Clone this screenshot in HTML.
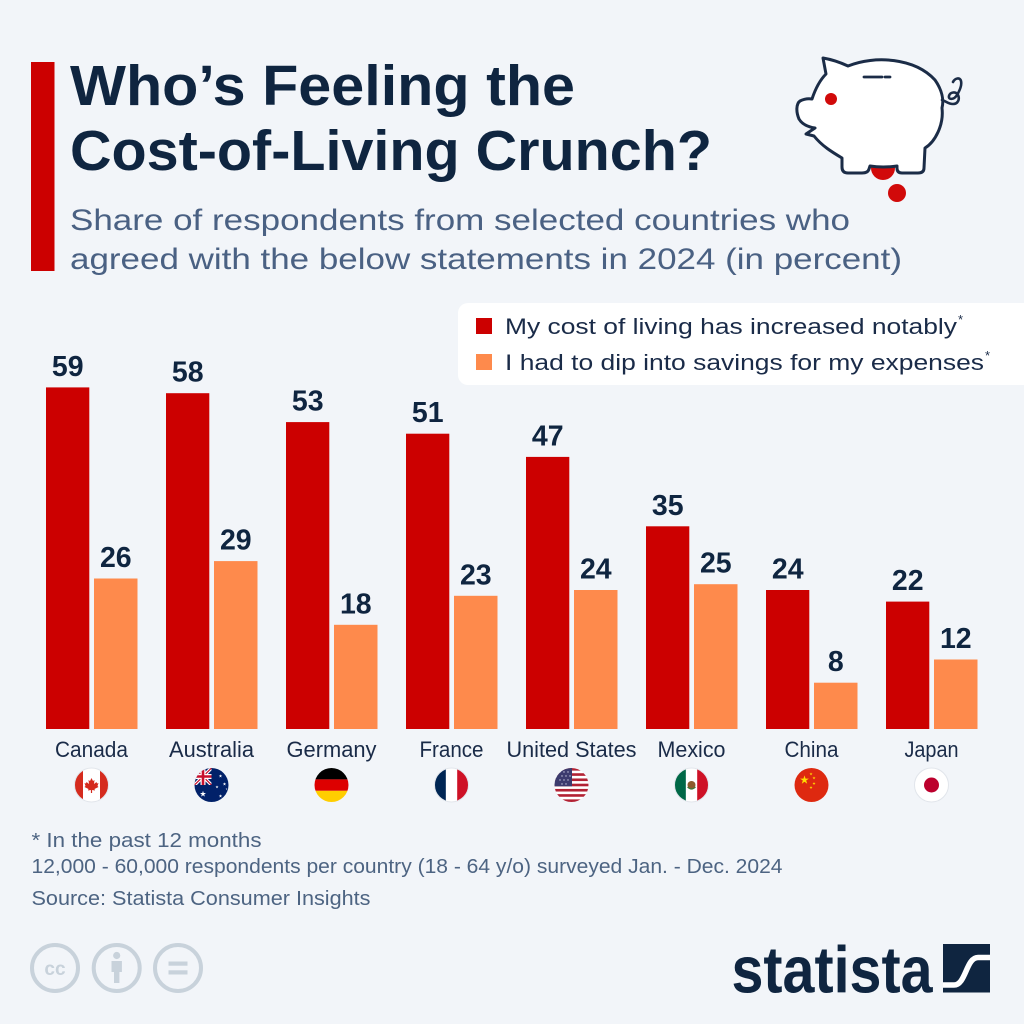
<!DOCTYPE html>
<html>
<head>
<meta charset="utf-8">
<style>
  html,body{margin:0;padding:0;background:#f2f5f9;}
  svg{display:block;}
  .t{font-family:"Liberation Sans",sans-serif;}
</style>
</head>
<body>
<svg width="1024" height="1024" viewBox="0 0 1024 1024" xmlns="http://www.w3.org/2000/svg">
  <defs>
    <path id="star" d="M0,-1 L0.2245,-0.309 L0.951,-0.309 L0.363,0.118 L0.588,0.809 L0,0.382 L-0.588,0.809 L-0.363,0.118 L-0.951,-0.309 L-0.2245,-0.309 Z"/>
    <clipPath id="c0"><circle cx="91.5" cy="785" r="17"/></clipPath>
    <clipPath id="c1"><circle cx="211.5" cy="785" r="17"/></clipPath>
    <clipPath id="c1q"><rect x="194.5" y="768" width="17" height="17"/></clipPath>
    <clipPath id="c2"><circle cx="331.5" cy="785" r="17"/></clipPath>
    <clipPath id="c3"><circle cx="451.5" cy="785" r="17"/></clipPath>
    <clipPath id="c4"><circle cx="571.5" cy="785" r="17"/></clipPath>
    <clipPath id="c5"><circle cx="691.5" cy="785" r="17"/></clipPath>
  </defs>

  <rect x="0" y="0" width="1024" height="1024" fill="#f2f5f9"/>

  <!-- Title block -->
  <rect x="31" y="62" width="23.5" height="209" fill="#cc0000"/>
  <g class="t" font-weight="bold" font-size="57" fill="#0f2540">
    <text x="70" y="105" textLength="505" lengthAdjust="spacingAndGlyphs">Who’s Feeling the</text>
    <text x="70" y="170" textLength="642" lengthAdjust="spacingAndGlyphs">Cost-of-Living Crunch?</text>
  </g>
  <g class="t" font-size="30" fill="#4a6183">
    <text x="70" y="230" textLength="780" lengthAdjust="spacingAndGlyphs">Share of respondents from selected countries who</text>
    <text x="70" y="269" textLength="832" lengthAdjust="spacingAndGlyphs">agreed with the below statements in 2024 (in percent)</text>
  </g>

  <!-- Piggy bank -->
  <circle cx="883" cy="168" r="12" fill="#d10a0a"/>
  <circle cx="897" cy="193" r="9" fill="#d10a0a"/>
  <path d="M 826 74 L 823 58 Q 835 60 848 66 C 875 55 915 58 935 80 C 942 90 944 100 942 108 C 944 125 935 142 925 148 L 924 168 Q 924 173 918 173 L 902 173 Q 897 173 897 168 L 897 166 Q 883 168 870 166 L 869 169 Q 868 173 862 173 L 848 173 Q 842 173 842 167 L 842 158 C 832 152 822 146 814 136 L 806 134 L 815 128 C 808 127 802 124 799 119 C 796 112 796 104 800 101 Q 806 98 812 99 C 815 90 820 80 826 74 Z" fill="#ffffff" stroke="#1b2c47" stroke-width="3" stroke-linejoin="round"/>
  <path d="M 942 100 C 946 101 948 104 953 104 C 958 104 960 99 958 95 C 956 91 950 92 949 96 C 948 100 954 100 957 95 C 960 90 962 85 961 81 C 960 77 955 78 953 82" fill="none" stroke="#1b2c47" stroke-width="2.6" stroke-linecap="round"/>
  <path d="M 864 77 L 882 77 M 885 77 L 890 77" stroke="#1b2c47" stroke-width="2.8" stroke-linecap="round"/>
  <circle cx="831" cy="99" r="6" fill="#d10a0a"/>

  <!-- Legend -->
  <rect x="458" y="303" width="580" height="82" rx="10" fill="#ffffff"/>
  <rect x="476" y="318" width="16" height="16" fill="#cc0000"/>
  <rect x="476" y="354" width="16" height="16" fill="#fe8a4c"/>
  <g class="t" font-size="22" fill="#1a2b48">
    <text x="505" y="334" textLength="452" lengthAdjust="spacingAndGlyphs">My cost of living has increased notably</text>
    <text x="958" y="324" font-size="13">*</text>
    <text x="505" y="370" textLength="479" lengthAdjust="spacingAndGlyphs">I had to dip into savings for my expenses</text>
    <text x="985" y="360" font-size="13">*</text>
  </g>

  <!-- Bars -->
  <g fill="#cc0000">
    <rect x="46" y="387.4" width="43.3" height="341.6"/>
    <rect x="166" y="393.2" width="43.3" height="335.8"/>
    <rect x="286" y="422.1" width="43.3" height="306.9"/>
    <rect x="406" y="433.7" width="43.3" height="295.3"/>
    <rect x="526" y="456.9" width="43.3" height="272.1"/>
    <rect x="646" y="526.3" width="43.3" height="202.7"/>
    <rect x="766" y="590" width="43.3" height="139"/>
    <rect x="886" y="601.6" width="43.3" height="127.4"/>
  </g>
  <g fill="#fe8a4c">
    <rect x="94" y="578.5" width="43.5" height="150.5"/>
    <rect x="214" y="561.1" width="43.5" height="167.9"/>
    <rect x="334" y="624.8" width="43.5" height="104.2"/>
    <rect x="454" y="595.8" width="43.5" height="133.2"/>
    <rect x="574" y="590" width="43.5" height="139"/>
    <rect x="694" y="584.2" width="43.5" height="144.8"/>
    <rect x="814" y="682.7" width="43.5" height="46.3"/>
    <rect x="934" y="659.5" width="43.5" height="69.5"/>
  </g>

  <!-- Value labels -->
  <g class="t" font-weight="bold" font-size="28.5" fill="#0f2540" text-anchor="middle">
    <text x="67.7" y="376">59</text>
    <text x="115.8" y="567">26</text>
    <text x="187.7" y="381.7">58</text>
    <text x="235.8" y="549.6">29</text>
    <text x="307.7" y="410.6">53</text>
    <text x="355.8" y="613.3">18</text>
    <text x="427.7" y="422.2">51</text>
    <text x="475.8" y="584.3">23</text>
    <text x="547.7" y="445.4">47</text>
    <text x="595.8" y="578.5">24</text>
    <text x="667.7" y="514.8">35</text>
    <text x="715.8" y="572.7">25</text>
    <text x="787.7" y="578.5">24</text>
    <text x="835.8" y="671.2">8</text>
    <text x="907.7" y="590.1">22</text>
    <text x="955.8" y="648">12</text>
  </g>

  <!-- Country labels -->
  <g class="t" font-size="22.5" fill="#1a2b48" text-anchor="middle">
    <text x="91.5" y="757" textLength="73" lengthAdjust="spacingAndGlyphs">Canada</text>
    <text x="211.5" y="757" textLength="85" lengthAdjust="spacingAndGlyphs">Australia</text>
    <text x="331.5" y="757" textLength="90" lengthAdjust="spacingAndGlyphs">Germany</text>
    <text x="451.5" y="757" textLength="64" lengthAdjust="spacingAndGlyphs">France</text>
    <text x="571.5" y="757" textLength="130" lengthAdjust="spacingAndGlyphs">United States</text>
    <text x="691.5" y="757" textLength="68" lengthAdjust="spacingAndGlyphs">Mexico</text>
    <text x="811.5" y="757" textLength="54" lengthAdjust="spacingAndGlyphs">China</text>
    <text x="931.5" y="757" textLength="54" lengthAdjust="spacingAndGlyphs">Japan</text>
  </g>

  <!-- Flags -->
  <!-- Canada -->
  <g clip-path="url(#c0)">
    <rect x="74.5" y="768" width="34" height="34" fill="#ffffff"/>
    <rect x="74.5" y="768" width="8.5" height="34" fill="#d52b1e"/>
    <rect x="100" y="768" width="8.5" height="34" fill="#d52b1e"/>
    <polygon transform="translate(91.5,785)" fill="#d52b1e" points="0,-7 1.5,-4 3,-5 2.5,-1 5,-3 5.5,-1.5 7,-2 6,1 7,2 3,4 3.5,5.5 0.6,5 0.6,8 -0.6,8 -0.6,5 -3.5,5.5 -3,4 -7,2 -6,1 -7,-2 -5.5,-1.5 -5,-3 -2.5,-1 -3,-5 -1.5,-4"/>
  </g>
  <circle cx="91.5" cy="785" r="17" fill="none" stroke="#e1e5eb" stroke-width="1"/>

  <!-- Australia -->
  <circle cx="211.5" cy="785" r="17" fill="#012169"/>
  <g clip-path="url(#c1)">
    <g clip-path="url(#c1q)">
      <path d="M194.5 768 L211.5 785 M211.5 768 L194.5 785" stroke="#ffffff" stroke-width="3.4"/>
      <path d="M194.5 768 L211.5 785 M211.5 768 L194.5 785" stroke="#c8102e" stroke-width="1.2"/>
      <path d="M203 768 L203 785 M194.5 776.5 L211.5 776.5" stroke="#ffffff" stroke-width="5"/>
      <path d="M203 768 L203 785 M194.5 776.5 L211.5 776.5" stroke="#c8102e" stroke-width="2.6"/>
    </g>
  </g>
  <g fill="#ffffff">
    <use href="#star" transform="translate(203,794) scale(3.2)"/>
    <use href="#star" transform="translate(220.5,776) scale(1.8)"/>
    <use href="#star" transform="translate(224.5,784) scale(1.8)"/>
    <use href="#star" transform="translate(217,787) scale(1.6)"/>
    <use href="#star" transform="translate(220.5,796) scale(1.8)"/>
    <use href="#star" transform="translate(226.5,789) scale(1)"/>
  </g>

  <!-- Germany -->
  <g clip-path="url(#c2)">
    <rect x="314.5" y="768" width="34" height="11.4" fill="#000000"/>
    <rect x="314.5" y="779.4" width="34" height="11.4" fill="#dd0000"/>
    <rect x="314.5" y="790.8" width="34" height="11.2" fill="#ffce00"/>
  </g>

  <!-- France -->
  <g clip-path="url(#c3)">
    <rect x="434.5" y="768" width="11.4" height="34" fill="#002654"/>
    <rect x="445.9" y="768" width="11.3" height="34" fill="#ffffff"/>
    <rect x="457.2" y="768" width="11.3" height="34" fill="#ce1126"/>
  </g>
  <circle cx="451.5" cy="785" r="17" fill="none" stroke="#e1e5eb" stroke-width="1"/>

  <!-- United States -->
  <g clip-path="url(#c4)">
    <rect x="554.5" y="768" width="34" height="34" fill="#ffffff"/>
    <g fill="#b22234">
      <rect x="554.5" y="768" width="34" height="2.62"/>
      <rect x="554.5" y="773.23" width="34" height="2.62"/>
      <rect x="554.5" y="778.46" width="34" height="2.62"/>
      <rect x="554.5" y="783.69" width="34" height="2.62"/>
      <rect x="554.5" y="788.92" width="34" height="2.62"/>
      <rect x="554.5" y="794.15" width="34" height="2.62"/>
      <rect x="554.5" y="799.38" width="34" height="2.62"/>
    </g>
    <rect x="554.5" y="768" width="17.5" height="18.3" fill="#3c3b6e"/>
    <g fill="#c9cbe0">
      <circle cx="560" cy="772" r="0.7"/><circle cx="564" cy="772" r="0.7"/><circle cx="568" cy="772" r="0.7"/>
      <circle cx="562" cy="776" r="0.7"/><circle cx="566" cy="776" r="0.7"/><circle cx="570" cy="776" r="0.7"/>
      <circle cx="560" cy="780" r="0.7"/><circle cx="564" cy="780" r="0.7"/><circle cx="568" cy="780" r="0.7"/>
      <circle cx="562" cy="784" r="0.7"/><circle cx="566" cy="784" r="0.7"/>
    </g>
  </g>

  <!-- Mexico -->
  <g clip-path="url(#c5)">
    <rect x="674.5" y="768" width="11.4" height="34" fill="#006847"/>
    <rect x="685.9" y="768" width="11.3" height="34" fill="#ffffff"/>
    <rect x="697.2" y="768" width="11.3" height="34" fill="#ce1126"/>
    <circle cx="691.5" cy="785" r="4" fill="#8c5a2b"/>
    <path d="M687.5 787 Q691.5 791 695.5 787" stroke="#3e7a3a" stroke-width="1.2" fill="none"/>
  </g>
  <circle cx="691.5" cy="785" r="17" fill="none" stroke="#e1e5eb" stroke-width="1"/>

  <!-- China -->
  <circle cx="811.5" cy="785" r="17" fill="#de2910"/>
  <g fill="#ffde00">
    <use href="#star" transform="translate(804.5,780) scale(4.6)"/>
    <use href="#star" transform="translate(811,774) scale(1.6)"/>
    <use href="#star" transform="translate(814,778) scale(1.6)"/>
    <use href="#star" transform="translate(814,783.5) scale(1.6)"/>
    <use href="#star" transform="translate(811,787.5) scale(1.6)"/>
  </g>

  <!-- Japan -->
  <circle cx="931.5" cy="785" r="17" fill="#ffffff" stroke="#e1e5eb" stroke-width="1"/>
  <circle cx="931.5" cy="785" r="7.5" fill="#bc002d"/>

  <!-- Footer notes -->
  <g class="t" font-size="20" fill="#4d6482">
    <text x="31.5" y="847" textLength="230" lengthAdjust="spacingAndGlyphs">* In the past 12 months</text>
    <text x="31.5" y="873" textLength="751" lengthAdjust="spacingAndGlyphs">12,000 - 60,000 respondents per country (18 - 64 y/o) surveyed Jan. - Dec. 2024</text>
    <text x="31.5" y="905" textLength="339" lengthAdjust="spacingAndGlyphs">Source: Statista Consumer Insights</text>
  </g>

  <!-- CC icons -->
  <g fill="none" stroke="#c8d2db" stroke-width="4">
    <circle cx="55" cy="968" r="23"/>
    <circle cx="116.7" cy="968" r="23"/>
    <circle cx="178" cy="968" r="23"/>
  </g>
  <text class="t" x="55" y="975" font-size="19" font-weight="bold" fill="#c8d2db" text-anchor="middle">cc</text>
  <g fill="#c8d2db">
    <circle cx="116.7" cy="955.5" r="3.6"/>
    <rect x="111.5" y="961" width="10.4" height="11"/>
    <rect x="114" y="961" width="5.4" height="22"/>
    <rect x="168.5" y="961.5" width="19" height="4.2"/>
    <rect x="168.5" y="970.3" width="19" height="4.2"/>
  </g>

  <!-- Statista logo -->
  <text class="t" x="731.5" y="992.5" font-size="66" font-weight="bold" fill="#0f2540" textLength="201" lengthAdjust="spacingAndGlyphs">statista</text>
  <rect x="943" y="944" width="47" height="48.5" fill="#0f2540"/>
  <path d="M 990 957.5 L 978 957.5 C 966 957.5 966 985 954 985 L 943 985" fill="none" stroke="#ffffff" stroke-width="5.5"/>
</svg>
</body>
</html>
